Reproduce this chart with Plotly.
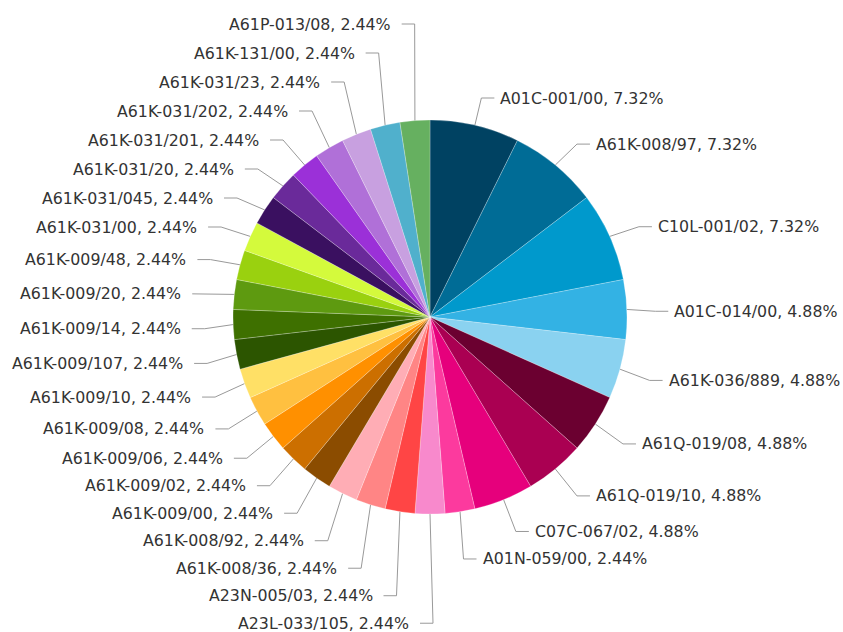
import math
import plotly.graph_objects as go

# ---------------- data ----------------
labels = [
    "A01C-001/00", "A61K-008/97", "C10L-001/02", "A01C-014/00", "A61K-036/889",
    "A61Q-019/08", "A61Q-019/10", "C07C-067/02", "A01N-059/00", "A23L-033/105",
    "A23N-005/03", "A61K-008/36", "A61K-008/92", "A61K-009/00", "A61K-009/02",
    "A61K-009/06", "A61K-009/08", "A61K-009/10", "A61K-009/107", "A61K-009/14",
    "A61K-009/20", "A61K-009/48", "A61K-031/00", "A61K-031/045", "A61K-031/20",
    "A61K-031/201", "A61K-031/202", "A61K-031/23", "A61K-131/00", "A61P-013/08",
]
values = [3, 3, 3, 2, 2, 2, 2, 2, 1, 1,
          1, 1, 1, 1, 1, 1, 1, 1, 1, 1,
          1, 1, 1, 1, 1, 1, 1, 1, 1, 1]
colors = [
    "#004262", "#006c96", "#0099cc", "#33b2e4", "#8ad2f0",
    "#6b0030", "#aa0052", "#e6007c", "#fc3a9e", "#f889cc",
    "#ff4545", "#ff8585", "#ffadb5", "#8b4c00", "#cc6f00",
    "#ff9000", "#ffc040", "#ffe066", "#2c5500", "#3e7000",
    "#5e9a10", "#9ad10f", "#d4fa3c", "#3a1060", "#6a2a9a",
    "#9b30d8", "#b070d8", "#c8a0e0", "#50b0cc", "#66b060",
]

# ---------------- layout constants (pixels) ----------------
W, H = 843, 632
CX, CY, R = 430, 317, 197
CYL = 320         # vertical centre used for label placement
RV = 228          # vertical radius for ideal label positions
SP_UP, SP_LO = 29, 27.5   # minimal vertical spacing between labels
TOP, BOTTOM = 24, 624
FONT = dict(family="DejaVu Sans, Verdana, sans-serif", size=15.8, color="#333333")

total = sum(values)
cum = 0
mids = []
for v in values:
    mids.append((cum + v / 2) / total * 2 * math.pi)
    cum += v

ideal = [CYL - RV * math.cos(t) for t in mids]
is_left = [t >= math.pi - 1e-9 for t in mids]
pos_y = list(ideal)


def spread(idx):
    upper = sorted([i for i in idx if ideal[i] < CYL], key=lambda i: -ideal[i])
    lower = sorted([i for i in idx if ideal[i] >= CYL], key=lambda i: ideal[i])
    prev = None
    for i in upper:
        y = ideal[i] if prev is None else min(ideal[i], prev - SP_UP)
        pos_y[i] = y
        prev = y
    if upper and pos_y[upper[-1]] < TOP:
        prev = None
        for i in reversed(upper):
            y = max(pos_y[i], TOP) if prev is None else max(pos_y[i], prev + SP_UP)
            pos_y[i] = y
            prev = y
    prev = None
    for i in lower:
        y = ideal[i] if prev is None else max(ideal[i], prev + SP_LO)
        pos_y[i] = y
        prev = y
    if lower and pos_y[lower[-1]] > BOTTOM:
        prev = None
        for i in reversed(lower):
            y = min(pos_y[i], BOTTOM) if prev is None else min(pos_y[i], prev - SP_LO)
            pos_y[i] = y
            prev = y


spread([i for i in range(len(values)) if is_left[i]])
spread([i for i in range(len(values)) if not is_left[i]])

line_x, line_y = [], []
annotations = []
for i, t in enumerate(mids):
    s = -1 if is_left[i] else 1
    F = 240 * abs(math.sin(t)) + 12 * abs(math.cos(t))
    ex = CX + s * (F - 15)
    px = CX + R * math.sin(t)
    py = CY - R * math.cos(t)
    sx = CX + s * (F - 2)
    y = pos_y[i]
    line_x += [px, ex, sx, None]
    line_y += [py, y, y, None]
    pct = values[i] / total * 100
    annotations.append(dict(
        x=CX + s * (F + (7 if is_left[i] else 2)), y=y, xref="x", yref="y",
        text=f"{labels[i]}, {pct:.2f}%", showarrow=False,
        xanchor="right" if is_left[i] else "left", yanchor="middle",
        font=FONT,
    ))

fig = go.Figure()
fig.add_trace(go.Pie(
    labels=labels, values=values, sort=False, direction="clockwise", rotation=0,
    marker=dict(colors=colors, line=dict(color="rgba(255,255,255,0.3)", width=0.8)),
    textinfo="none", hoverinfo="label+percent", showlegend=False,
    domain=dict(x=[(CX - R) / W, (CX + R) / W],
                y=[1 - (CY + R) / H, 1 - (CY - R) / H]),
))
fig.add_trace(go.Scatter(
    x=line_x, y=line_y, mode="lines", line=dict(color="#999999", width=1),
    hoverinfo="skip", showlegend=False,
))
fig.update_layout(
    width=W, height=H, margin=dict(l=0, r=0, t=0, b=0),
    paper_bgcolor="white", plot_bgcolor="rgba(0,0,0,0)",
    xaxis=dict(range=[0, W], visible=False, domain=[0, 1], fixedrange=True),
    yaxis=dict(range=[H, 0], visible=False, domain=[0, 1], fixedrange=True),
    annotations=annotations,
)
fig.write_html("out.html")
